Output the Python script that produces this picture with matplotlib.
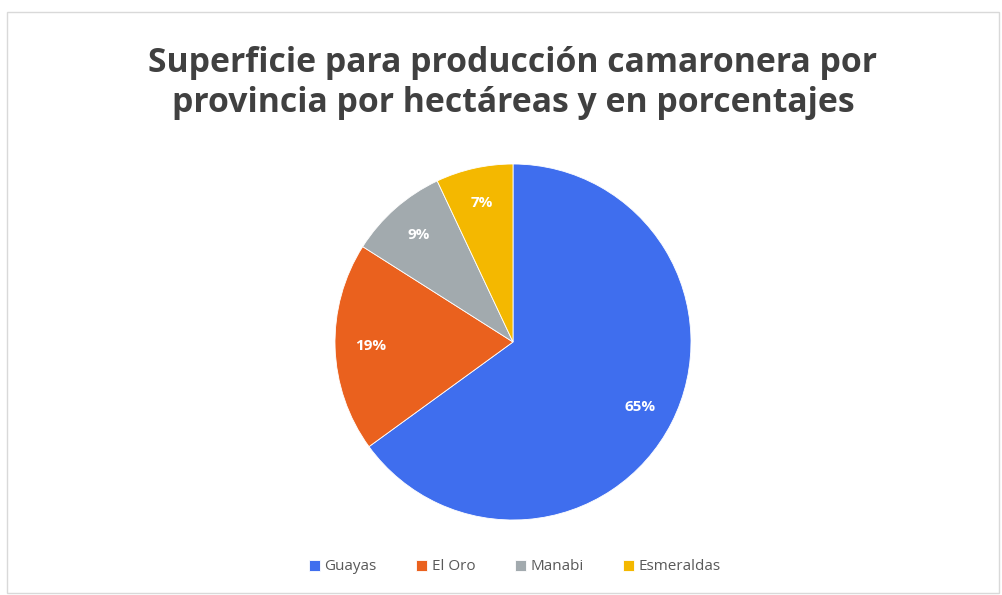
import matplotlib
matplotlib.use("Agg")
import matplotlib.pyplot as plt
from matplotlib.patches import Rectangle

categories = ["Guayas", "El Oro", "Manabi", "Esmeraldas"]
values = [65, 19, 9, 7]
colors = ["#3F6EEE", "#EA611E", "#A2AAAE", "#F4B800"]
title = "Superficie para producción camaronera por\nprovincia por hectáreas y en porcentajes"

fig = plt.figure(figsize=(10.03, 5.95), dpi=100)
fig.patch.set_facecolor("white")

# chart border
fig.add_artist(Rectangle((7/1003, 2/595), 992/1003, 581/595, transform=fig.transFigure,
                         fill=False, edgecolor="#D9D9D9", linewidth=1))

r_px = 178
cx, cy = 513, 342
ax = fig.add_axes([(cx - r_px)/1003, (595 - cy - r_px)/595, 2*r_px/1003, 2*r_px/595])
wedges, texts, autotexts = ax.pie(values, colors=colors, startangle=90, counterclock=False,
                                  autopct="%1.0f%%", pctdistance=0.8, radius=1,
                                  wedgeprops=dict(linewidth=0.6, edgecolor="white"),
                                  textprops=dict(color="white", fontsize=11, fontweight="bold",
                                                 family="Open Sans"))
ax.set_xlim(-1, 1)
ax.set_ylim(-1, 1)
ax.set_aspect("equal")
ax.axis("off")

fig.text(513/1003, 1 - 83/595, title, ha="center", va="center", fontsize=24.3,
         fontweight="bold", family="Open Sans", color="#404040", linespacing=1.25)

leg = fig.legend(wedges, categories, loc="center", bbox_to_anchor=(515/1003, 1 - 567/595),
                 ncol=4, frameon=False, handlelength=0.7, handleheight=0.7,
                 handletextpad=0.3, columnspacing=2.6,
                 prop=dict(family="Open Sans", size=11))
for t in leg.get_texts():
    t.set_color("#595959")

fig.savefig("out.png", dpi=100, facecolor="white")
